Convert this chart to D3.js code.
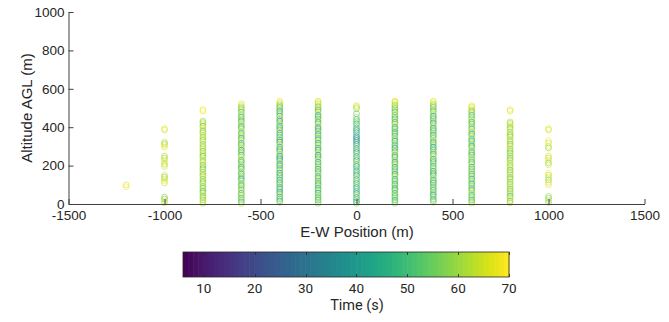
<!DOCTYPE html>
<html><head><meta charset="utf-8">
<script src="https://cdn.jsdelivr.net/npm/d3@7"></script>
<style>body{margin:0;background:#fff}svg{display:block}</style>
</head><body><svg id="c" width="669" height="322"></svg>
<script>
// ---- data ----
const xTicks = [-1500,-1000,-500,0,500,1000,1500];
const yTicks = [0,200,400,600,800,1000];
const cTicks = [10,20,30,40,50,60,70];
const colorMin = 5.9, colorMax = 70;
const columnX = [-1200,-1000,-800,-600,-400,-200,0,200,400,600,800,1000];
const colAlt = [
 [100,90],
 [392,386,322,314,305,296,250,240,229,218,207,196,150,141,131,120,110,36,26,16,6],
 [492,484,432,424,415,406,397,386,377,368,358,349,340,331,322,312,303,294,285,276,266,257,248,239,230,221,212,203,194,184,175,166,157,148,139,130,121,112,102,93,84,75,66,57,48,39,30,21,12,4],
 [522,514,506,497,488,479,470,461,452,443,434,425,416,407,398,389,380,371,362,353,344,335,326,317,308,299,290,281,272,263,254,245,236,227,218,209,200,191,182,173,164,155,146,137,128,119,110,101,92,83,74,65,56,47,38,29,20,11,3],
 [535,528,520,512,503,494,485,476,467,458,449,440,431,422,413,404,395,386,377,368,359,350,341,332,323,314,305,296,287,278,269,260,251,242,233,224,215,206,197,188,179,170,161,152,143,134,125,116,107,98,89,80,71,62,53,44,35,26,17,8],
 [536,530,522,514,506,497,488,479,470,461,452,443,434,425,416,407,398,389,380,371,362,353,344,335,326,317,308,299,290,281,272,263,254,245,236,227,218,209,200,191,182,173,164,155,146,137,128,119,110,101,92,83,74,65,56,47,38,29,20,11,3],
 [512,505,497,470,452,440,430,418,406,395,384,372,361,350,340,330,320,310,300,289,278,268,258,247,236,226,215,205,194,182,171,160,149,138,128,118,107,96,86,76,65,54,44,33,22,12,4],
 [537,531,523,515,507,498,489,480,471,462,453,444,435,426,417,408,399,390,381,372,363,354,345,336,327,318,309,300,291,282,273,264,255,246,237,228,219,210,201,192,183,174,165,156,147,138,129,120,111,102,93,84,75,66,57,48,39,30,21,12,4],
 [536,529,521,513,504,495,486,477,468,459,450,441,432,423,414,405,396,387,378,369,360,351,342,333,324,315,306,297,288,279,270,261,252,243,234,225,216,207,198,189,180,171,162,153,144,135,126,117,108,99,90,81,72,63,54,45,36,27,18,9],
 [512,505,497,489,480,471,462,453,444,435,426,417,408,399,390,381,372,363,354,345,336,327,318,309,300,291,282,273,264,255,246,237,228,219,210,201,192,183,174,165,156,147,138,129,120,111,102,93,84,75,66,57,48,39,30,21,12,4],
 [492,484,428,420,411,402,393,384,375,366,357,348,339,330,321,312,303,294,285,276,267,258,249,240,231,222,213,204,195,186,177,168,159,150,141,132,123,114,105,96,87,78,69,60,51,42,33,24,15,6],
 [392,386,330,318,300,292,250,240,228,215,205,160,150,138,126,112,100,40,30,18,8]
];
const colTime = [
 [67,69],
 [68,66,64,58,66,69,62,57,67,70,60,65,66,56,63,69,64,58,54,66,62],
 [68,70,60,57,66,52,69,63,55,61,67,58,64,53,70,59,62,56,68,54,65,60,51,67,63,57,70,55,61,48,66,59,64,52,69,57,62,50,67,60,55,64,49,58,68,53,62,57,66,61],
 [66,70,58,52,63,47,68,55,49,61,44,57,66,51,45,59,69,48,54,62,43,56,67,50,46,60,65,42,53,58,48,64,70,45,51,57,62,44,49,67,55,47,60,52,43,58,66,46,54,61,49,69,45,56,63,50,58,47,62],
 [67,70,62,55,48,64,41,52,58,45,69,50,39,57,63,44,53,47,66,40,55,49,61,43,38,56,68,46,51,42,59,65,44,48,37,54,62,41,50,57,45,67,39,53,47,60,43,56,40,64,49,44,58,38,52,61,46,55,42,63],
 [65,69,60,70,52,63,46,58,67,41,55,49,62,44,57,68,38,51,47,64,42,59,53,45,66,40,56,61,48,43,58,65,39,52,47,70,44,55,50,62,41,57,46,67,53,43,60,49,56,40,64,47,52,58,44,61,50,55,45,63,57],
 [64,68,58,52,61,47,55,43,59,49,36,44,53,33,40,31,46,38,57,42,50,35,60,45,54,39,63,48,41,56,44,51,37,62,46,55,43,58,40,52,47,39,60,45,53,42,57],
 [68,63,70,56,65,50,61,45,67,53,58,42,64,48,55,69,44,51,60,40,57,47,66,52,43,62,49,55,38,59,46,68,53,41,57,63,45,50,65,43,56,48,61,39,54,67,46,52,58,44,60,49,42,64,51,56,47,62,45,53,59],
 [66,70,62,57,51,64,46,59,68,43,54,49,61,40,56,65,45,52,48,63,41,58,53,67,44,50,60,38,55,47,62,43,57,69,46,51,42,64,48,55,60,44,52,39,58,66,47,53,41,61,49,56,45,63,50,42,59,54,47,62],
 [68,64,70,58,52,63,47,60,55,66,45,51,62,57,48,69,53,44,59,65,50,46,61,55,42,58,67,49,53,45,63,56,60,47,52,68,44,57,50,62,46,55,59,43,64,51,48,61,54,45,58,66,49,53,60,47,56,63],
 [69,66,63,58,67,61,55,70,59,64,52,62,68,57,65,54,60,69,56,63,50,66,58,61,53,67,59,64,56,70,52,62,57,65,60,51,68,55,63,58,66,53,61,57,64,50,59,67,55,62],
 [68,65,70,63,66,60,67,62,69,58,64,70,61,66,57,63,68,60,55,64,58]
];

// ---- drawing ----
const svg = d3.select('#c');
const axisCol = '#404040', textCol = '#262626';
const x = d3.scaleLinear().domain([-1500,1500]).range([68.5,644.5]);
const y = d3.scaleLinear().domain([0,1000]).range([204,12]);
const color = t => d3.interpolateViridis((t-colorMin)/(colorMax-colorMin));

const pts = [];
columnX.forEach((cx,i)=>{
  const a = colAlt[i], t = colTime[i];
  const n = Math.min(a.length,t.length);
  for(let k=0;k<n;k++) pts.push({x:cx,alt:a[k],t:t[k]});
});
svg.append('g').selectAll('circle').data(pts).join('circle')
  .attr('cx',d=>x(d.x)).attr('cy',d=>y(d.alt)).attr('r',2.9)
  .attr('fill','none').attr('stroke',d=>color(d.t)).attr('stroke-width',0.6);

// axes (inside ticks)
const font = 'Liberation Sans, Arial, sans-serif';
const gx = svg.append('g').attr('transform','translate(0,204)')
  .call(d3.axisBottom(x).tickValues(xTicks).tickSizeInner(-5).tickSizeOuter(0).tickPadding(6).tickFormat(d3.format('d')));
const gy = svg.append('g').attr('transform','translate(68.5,0)')
  .call(d3.axisLeft(y).tickValues(yTicks).tickSizeInner(-5).tickSizeOuter(0).tickPadding(4).tickFormat(d3.format('d')));
[gx,gy].forEach(g=>{
  g.select('.domain').attr('stroke',axisCol);
  g.selectAll('.tick line').attr('stroke',axisCol);
  g.selectAll('.tick text').attr('fill',textCol).style('font-family',font).style('font-size','13.5px');
});
gx.selectAll('.tick text').text(d=>d<0?'-'+Math.abs(d):d);
gy.selectAll('.tick text').attr('x',-4);

svg.append('text').attr('x',357).attr('y',237).attr('text-anchor','middle')
  .attr('fill',textCol).style('font-family',font).style('font-size','15px').text('E-W Position (m)');
svg.append('text').attr('transform','translate(32,108) rotate(-90)').attr('text-anchor','middle')
  .attr('fill',textCol).style('font-family',font).style('font-size','15px').text('Altitude AGL (m)');

// colorbar
const cb = {x0:183,x1:509,y0:252,y1:277};
const cx = d3.scaleLinear().domain([colorMin,colorMax]).range([cb.x0,cb.x1]);
const nBands = 64;
const bands = d3.range(nBands);
svg.append('g').selectAll('rect').data(bands).join('rect')
  .attr('x',i=>cb.x0+(cb.x1-cb.x0)*i/nBands).attr('y',cb.y0)
  .attr('width',(cb.x1-cb.x0)/nBands+0.6).attr('height',cb.y1-cb.y0)
  .attr('fill',i=>d3.interpolateViridis((i+0.5)/nBands));
svg.append('rect').attr('x',cb.x0).attr('y',cb.y0).attr('width',cb.x1-cb.x0).attr('height',cb.y1-cb.y0)
  .attr('fill','none').attr('stroke','#262626').attr('stroke-width',0.8);
const ct = svg.append('g');
cTicks.forEach(v=>{
  const px = Math.round(cx(v))+0.5;
  ct.append('line').attr('x1',px).attr('x2',px).attr('y1',cb.y0).attr('y2',cb.y0+3).attr('stroke','#262626').attr('stroke-width',0.8);
  ct.append('line').attr('x1',px).attr('x2',px).attr('y1',cb.y1).attr('y2',cb.y1-3).attr('stroke','#262626').attr('stroke-width',0.8);
  ct.append('text').attr('x',cx(v)).attr('y',293).attr('text-anchor','middle').attr('fill',textCol)
    .style('font-family','Roboto, sans-serif').style('font-size','13.5px').text(v);
});
svg.append('text').attr('x',357).attr('y',310).attr('text-anchor','middle').attr('fill',textCol)
  .style('font-family','Roboto, sans-serif').style('font-size','14.5px').text('Time (s)');
</script></body></html>
